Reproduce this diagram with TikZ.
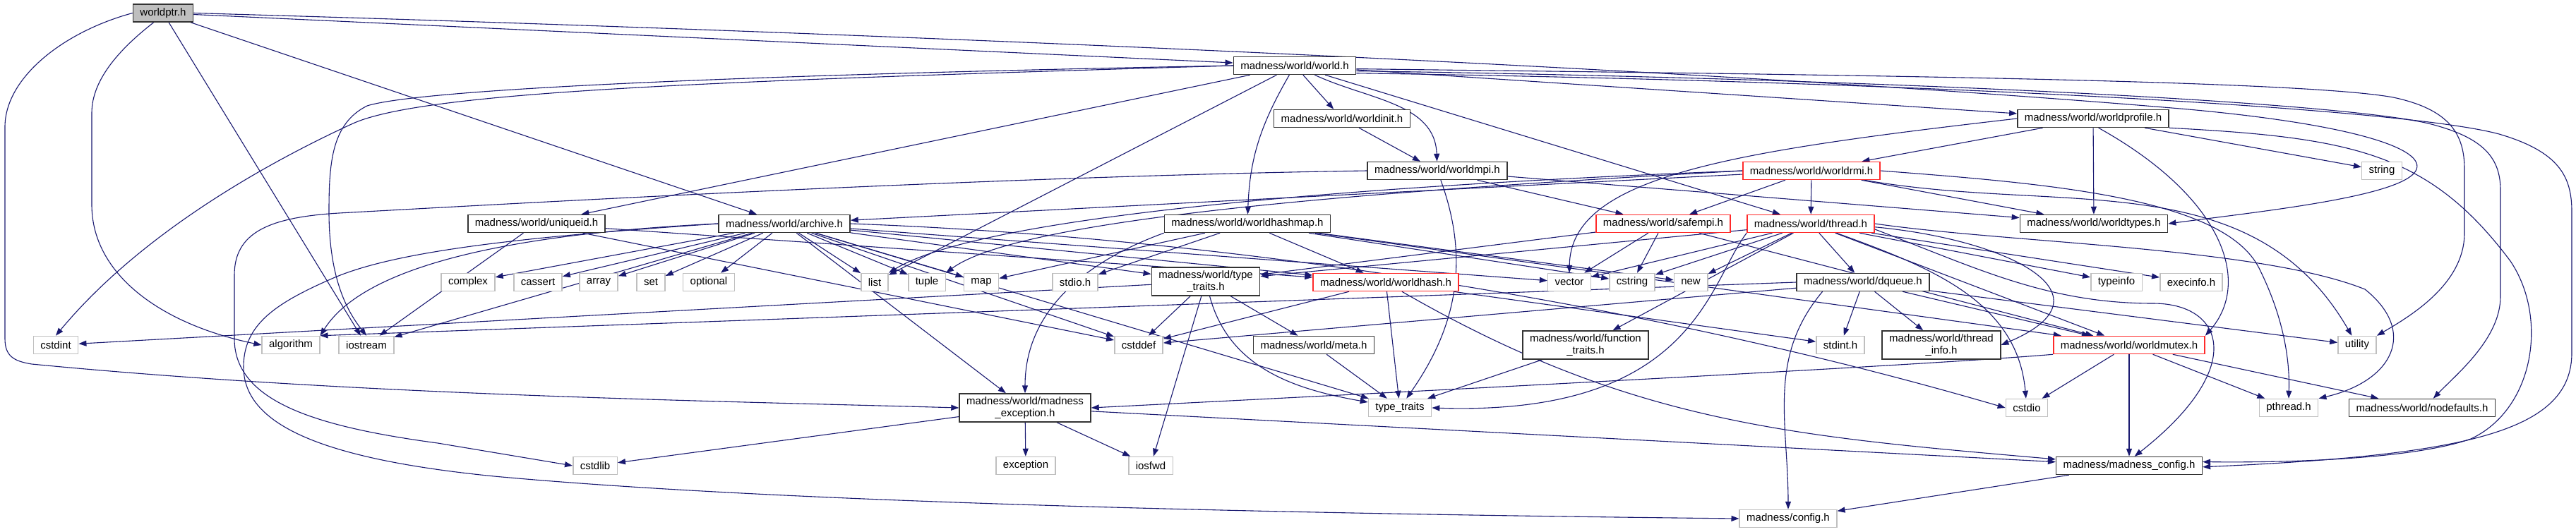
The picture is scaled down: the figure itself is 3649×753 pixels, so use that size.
\documentclass[tikz,border=0pt]{standalone}
\usepackage{fontspec}
\setmainfont{Liberation Sans}
\usetikzlibrary{arrows.meta,backgrounds}
\definecolor{incAzul}{HTML}{191970}
\definecolor{incRojo}{HTML}{FF2A2A}
\definecolor{incGris}{HTML}{BFBFBF}
\definecolor{incNegro}{HTML}{333333}

\begin{document}
\begin{tikzpicture}[x=1pt, y=-1pt,
    every node/.style={font=\fontsize{15}{17}\selectfont, align=center, fill=white,
      line width=1.5pt, inner xsep=10pt, inner ysep=2pt, minimum height=25pt},
    hdr/.style={draw=incNegro},
    sys/.style={draw=incGris},
    trunc/.style={draw=incRojo},
    twoline/.style={hdr, minimum height=40pt},
    inc/.style={incAzul, line width=1.1pt, -{Triangle[length=11pt,width=8pt]}}]
  \useasboundingbox (0,0) rectangle (3649,753);

  \node[hdr, fill=incGris] (wptr) at (231,18.5) {worldptr.h};
  \foreach \n/\x/\y/\t in {
      world/1834/93/{madness/world/world.h},
      winit/1901/168/{madness/world/worldinit.h},
      wprof/2965/168/{madness/world/worldprofile.h},
      wmpi/2036/242/{madness/world/worldmpi.h},
      uid/760/317/{madness/world/uniqueid.h},
      arch/1111/317/{madness/world/archive.h},
      whmap/1767/317/{madness/world/worldhashmap.h},
      wtypes/2966/317/{madness/world/worldtypes.h},
      dq/2639/400/{madness/world/dqueue.h},
      meta/1861/489/{madness/world/meta.h},
      nodef/3431/578/{madness/world/nodefaults.h},
      mcfg/3016/660/{madness/madness\_config.h}}
    \node[hdr] (\n) at (\x,\y) {\t};
  \node[twoline] (mtt) at (1708,399) {madness/world/type\\\_traits.h};
  \node[twoline] (ftraits) at (2246,489) {madness/world/function\\\_traits.h};
  \node[twoline] (tinfo) at (2750,489) {madness/world/thread\\\_info.h};
  \node[twoline] (mexc) at (1452,578) {madness/world/madness\\\_exception.h};
  \foreach \n/\x/\y/\t in {
      wrmi/2566/242/{madness/world/worldrmi.h},
      smpi/2356/317/{madness/world/safempi.h},
      thr/2565/317/{madness/world/thread.h},
      whash/1963/400/{madness/world/worldhash.h},
      wmutex/3016/489/{madness/world/worldmutex.h}}
    \node[trunc] (\n) at (\x,\y) {\t};
  \foreach \n/\x/\y/\t in {
      string/3374/242/string, complex/663/400/complex, cassert/762/400/cassert,
      array/848/400/array, set/922/400/set, optional/1004/400/optional,
      list/1239/400/list, tuple/1313/400/tuple, map/1390/400/map,
      stdioh/1523/400/stdio.h, vector/2223/400/vector, cstring/2312/400/cstring,
      new/2395/400/new, typeinfo/2998/400/typeinfo, execinfo/3104/400/execinfo.h,
      cstdint/79/489/cstdint, algorithm/412/489/algorithm, iostream/519/489/iostream,
      cstddef/1613/489/cstddef, stdinth/2607/489/stdint.h, utility/3339/489/utility,
      tt/1983/578/type\_traits, cstdio/2871/578/cstdio, pthread/3242/578/pthread.h,
      cstdlib/843/660/cstdlib, exception/1453/660/exception, iosfwd/1630/660/iosfwd,
      config/2533/735/{madness/config.h}}
    \node[sys] (\n) at (\x,\y) {\t};

  \begin{scope}[on background layer]
    \foreach \a/\b in {wptr/world, wptr/arch, wptr/iostream,
        world/winit, world/wprof, world/thr, world/uid, world/list,
        winit/wmpi, wmpi/smpi, wmpi/wtypes,
        wprof/wrmi, wprof/wtypes, wprof/string,
        wrmi/smpi, wrmi/thr, wrmi/wtypes, wrmi/arch,
        uid/iostream, uid/cstddef, uid/whash,
        arch/complex, arch/cassert, arch/array, arch/set, arch/optional,
        arch/list, arch/tuple, arch/map, arch/mtt, arch/whash, arch/cstddef,
        arch/tt, arch/iostream, arch/mexc, arch/vector,
        whmap/whash, whmap/stdioh, whmap/map, whmap/new, whmap/cstring, whmap/wmutex,
        smpi/mtt, smpi/cstring, smpi/wmutex, smpi/vector,
        thr/dq, thr/ftraits, thr/mtt, thr/wmutex, thr/typeinfo, thr/new,
        thr/execinfo, thr/vector, thr/cstring,
        dq/stdinth, dq/tinfo, dq/wmutex, dq/cstddef, dq/utility,
        mtt/cstddef, mtt/meta, mtt/iosfwd, mtt/cstdint,
        whash/cstddef, whash/tt, whash/stdinth,
        meta/tt, ftraits/tt,
        wmutex/cstdio, wmutex/mcfg, wmutex/pthread, wmutex/nodef,
        mexc/cstdlib, mexc/exception, mexc/iosfwd, mexc/mcfg, mcfg/config}
      \draw[inc] (\a) -- (\b);

    \draw[inc] (wptr.west) .. controls (90,45) and (7,110) .. (7,180) -- (7,480)
      .. controls (7,505) and (20,512) .. (45,516) .. controls (500,560) and (1000,568) .. (mexc.west);
    \draw[inc] (wptr.225) .. controls (175,65) and (130,110) .. (130,160) -- (130,290)
      .. controls (130,390) and (230,460) .. (algorithm.west);
    \draw[inc] (wptr.east) .. controls (1200,45) and (2400,95) .. (3100,155)
      .. controls (3350,178) and (3445,215) .. (3420,245)
      .. controls (3390,280) and (3200,300) .. (wtypes.east);

    \draw[inc] (world) to[out=-25,in=92] (wmpi);
    \draw[inc] (world) to[out=-120,in=88] (whmap);
    \draw[inc] (world.west) .. controls (1100,105) and (600,125) .. (520,150)
      .. controls (470,175) and (466,230) .. (466,300)
      .. controls (466,400) and (495,445) .. (iostream.north);
    \draw[inc] (world.west) .. controls (1000,115) and (600,130) .. (500,175)
      .. controls (380,230) and (200,330) .. (cstdint.north);
    \draw[inc] (world.-3) .. controls (2500,105) and (3250,112) .. (3390,138)
      .. controls (3470,155) and (3491,190) .. (3491,240) -- (3491,330)
      .. controls (3491,400) and (3420,445) .. (utility.north east);
    \draw[inc] (world.-5) .. controls (2600,110) and (3300,142) .. (3440,175)
      .. controls (3520,195) and (3542,225) .. (3542,270) -- (3542,420)
      .. controls (3542,480) and (3480,530) .. (nodef.40);
    \draw[inc] (world.-7) .. controls (2700,115) and (3400,152) .. (3540,190)
      .. controls (3625,215) and (3643,250) .. (3643,300) -- (3643,500)
      .. controls (3643,610) and (3500,645) .. (mcfg.-1);

    \draw[inc] (wprof.south east) .. controls (3330,195) and (3440,215) .. (3556,370)
      .. controls (3610,450) and (3590,580) .. (3500,622)
      .. controls (3420,650) and (3250,656) .. (mcfg.3);
    \draw[inc] (wprof.west) .. controls (2450,215) and (2225,250) .. (vector.north);
    \draw[inc] (wprof.-60) .. controls (3150,280) and (3190,400) .. (wmutex.north east);

    \draw[inc] (wmpi.west) .. controls (1400,250) and (700,290) .. (480,302)
      .. controls (380,308) and (332,330) .. (332,390) -- (332,480)
      .. controls (332,570) and (450,605) .. (620,628) -- (cstdlib.west);
    \draw[inc] (wmpi) to[out=-70,in=55] (tt);

    \draw[inc] (wrmi.west) .. controls (2000,260) and (1400,300) .. (list.north east);
    \draw[inc] (wrmi.west) .. controls (2000,268) and (1450,305) .. (tuple.north east);
    \draw[inc] (wrmi) to[out=-10,in=120] (utility);
    \draw[inc] (wrmi.east) .. controls (2900,260) and (3150,280) .. (3200,380)
      .. controls (3230,440) and (3244,500) .. (pthread.north);

    \draw[inc] (arch.west) .. controls (750,335) and (560,355) .. (470,395)
      .. controls (390,430) and (345,460) .. (345,520)
      .. controls (345,600) and (450,650) .. (700,675)
      .. controls (1100,712) and (1800,728) .. (config.west);
    \draw[inc] (arch.west) .. controls (750,330) and (520,370) .. (algorithm.north east);
    \draw[inc] (arch.east) .. controls (1700,335) and (2300,420) .. (cstdio.west);

    \draw[inc] (whmap.south west) to[out=-160,in=90] (mexc);
    \draw[inc] (mtt) to[out=-75,in=170] (tt);
    \draw[inc] (whash) to[out=-30,in=175] (mcfg);

    \draw[inc] (thr) to[out=-20,in=95] (cstdio);
    \draw[inc] (thr.south west) .. controls (2420,400) and (2400,590) .. (tt.east);
    \draw[inc] (thr.-3) .. controls (2850,340) and (3000,420) .. (tinfo.east);
    \draw[inc] (thr.-5) .. controls (2800,380) and (2900,430) .. (3050,430)
      .. controls (3150,430) and (3185,520) .. (mcfg.60);
    \draw[inc] (thr.east) .. controls (2850,345) and (3200,350) .. (3350,410)
      .. controls (3425,470) and (3390,540) .. (pthread.north east);

    \draw[inc] (dq.west) -- (algorithm.north east);
    \draw[inc] (dq.-167) to[out=-130,in=90] (config);
    \draw[inc] (wmutex.south west) .. controls (2700,520) and (1800,565) .. (mexc.east);
  \end{scope}
\end{tikzpicture}
\end{document}
